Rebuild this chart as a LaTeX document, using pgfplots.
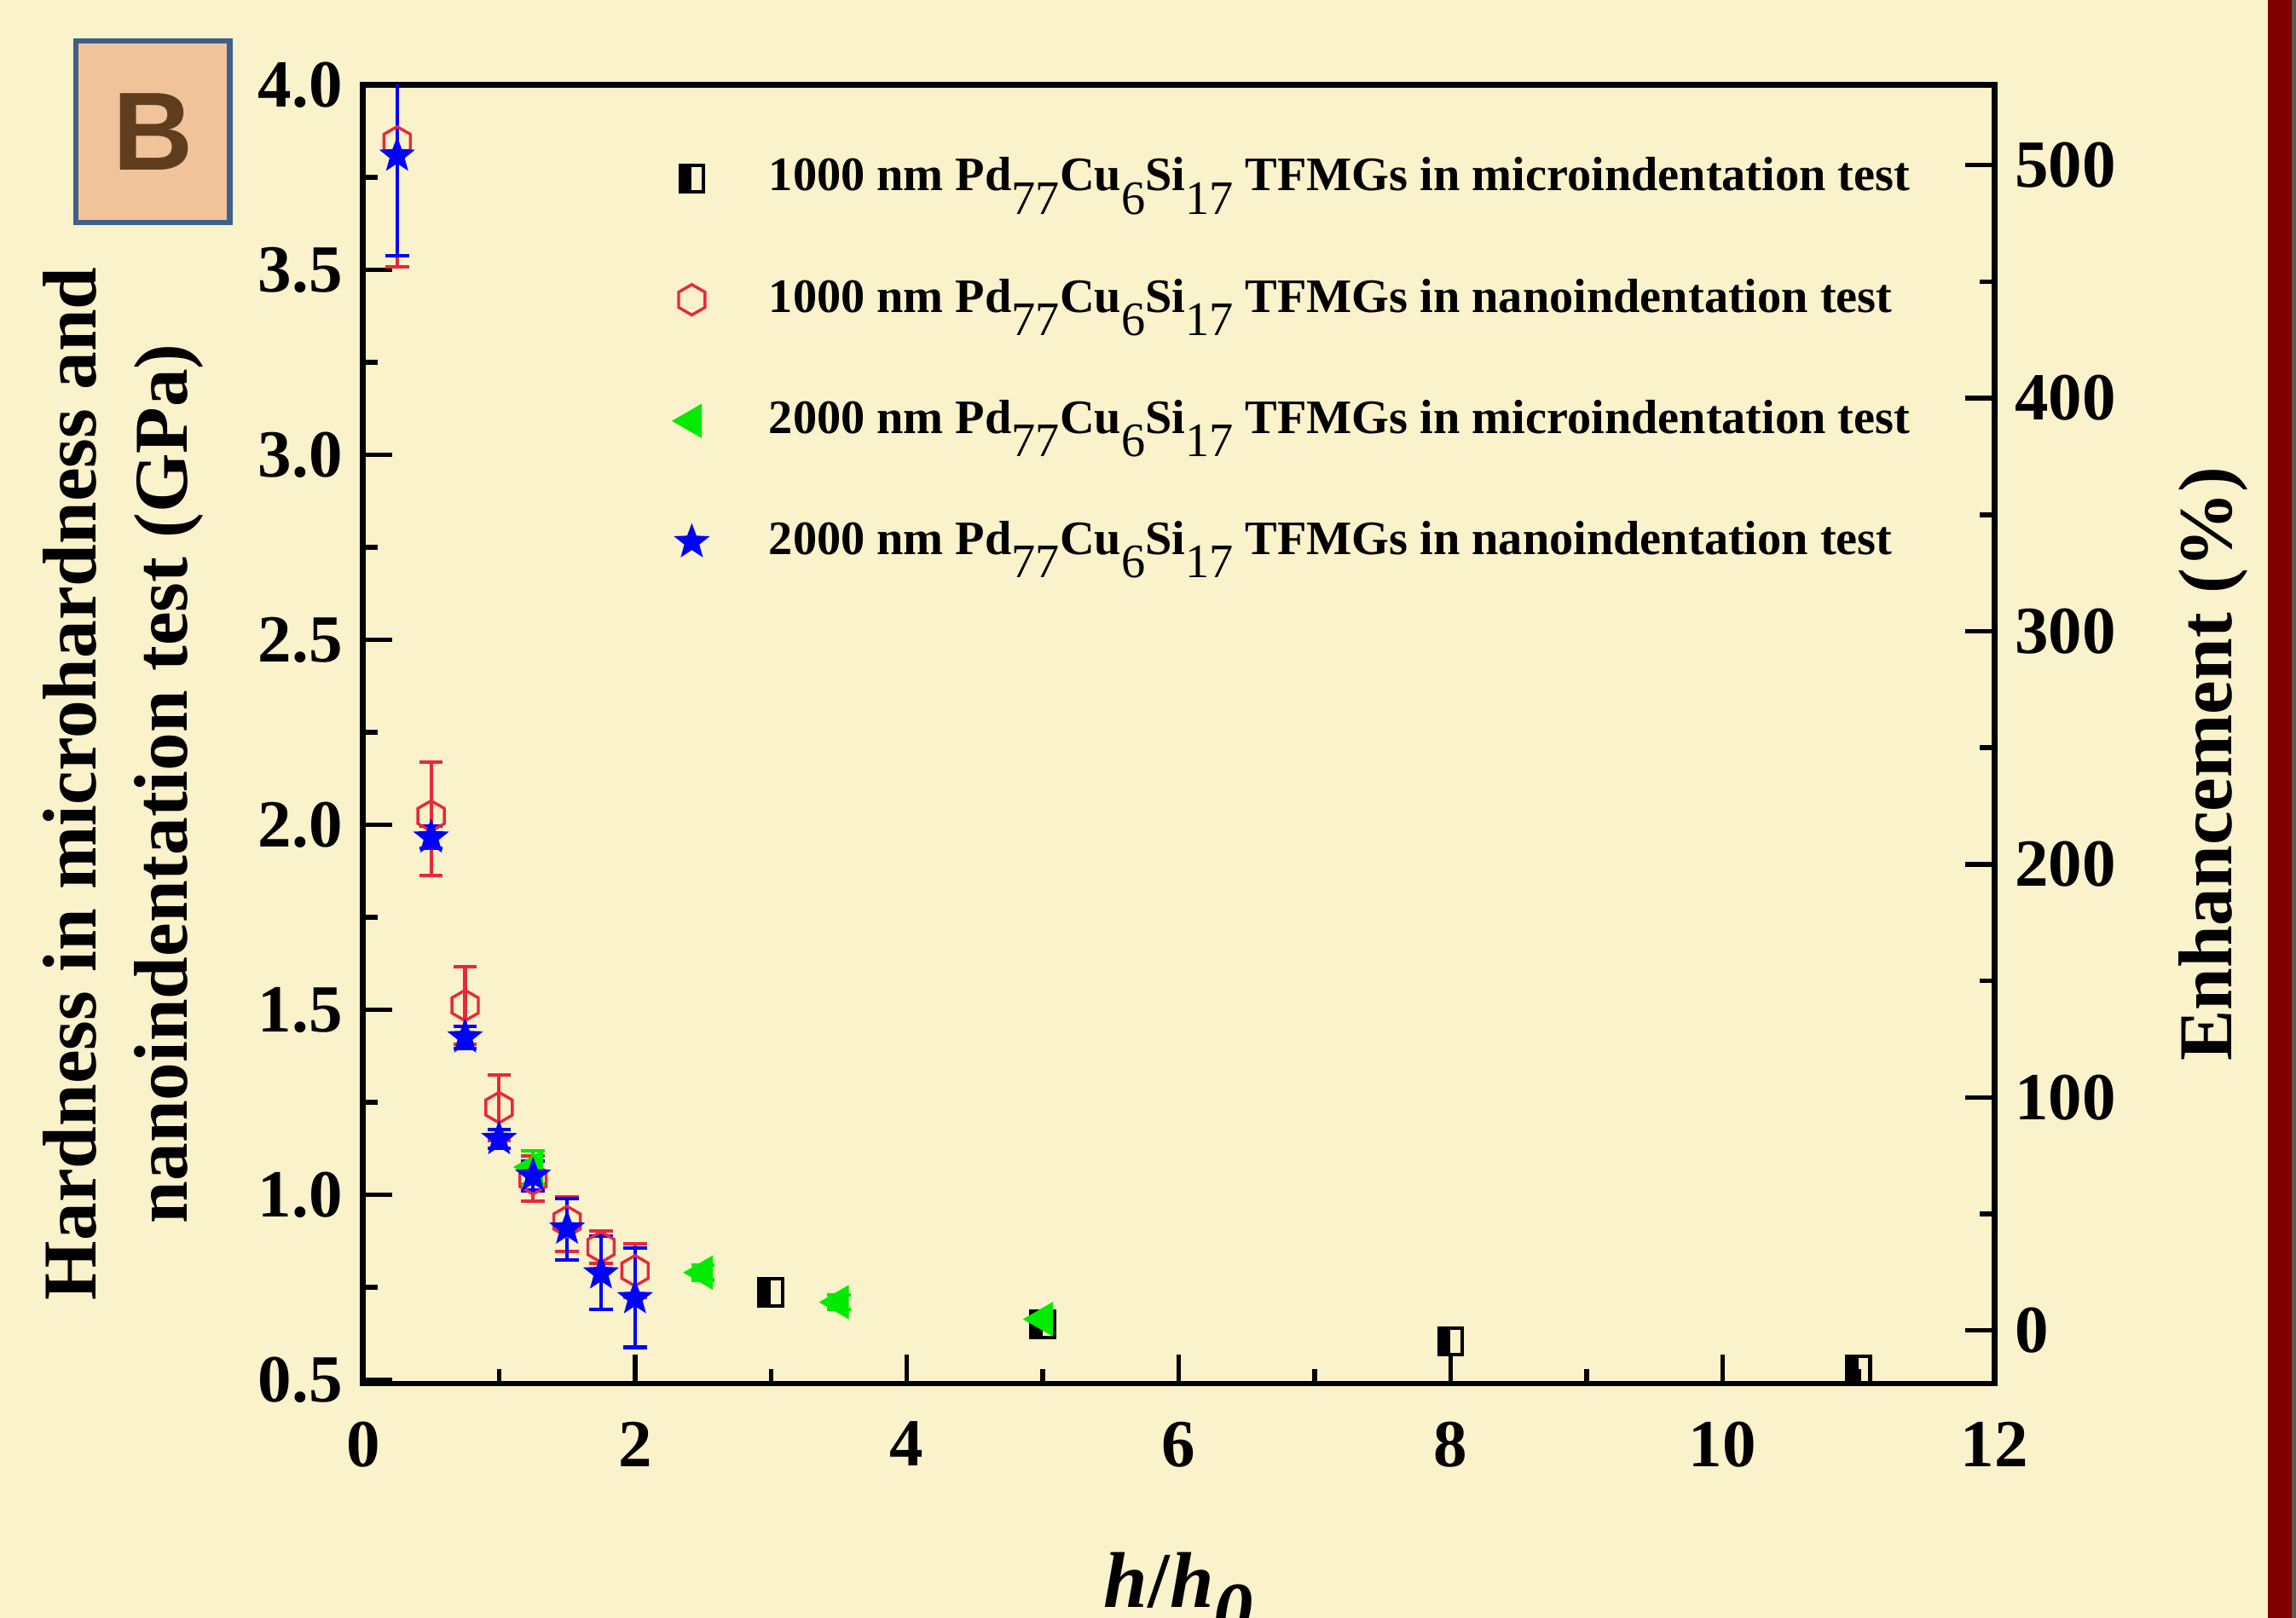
\documentclass[border=0pt]{standalone}
\usepackage{fontspec}
\setmainfont{Liberation Serif}
\newfontfamily\sansB{Liberation Sans}
\usepackage{pgfplots}
\pgfplotsset{compat=1.18}
\usetikzlibrary{plotmarks}

\definecolor{bg}{RGB}{249,242,202}
\definecolor{Bfill}{RGB}{241,195,154}
\definecolor{Bblue}{RGB}{61,95,138}
\definecolor{Bbrown}{RGB}{95,62,31}
\definecolor{dred}{RGB}{128,0,0}
\definecolor{hexred}{RGB}{232,40,60}
\definecolor{lime}{RGB}{0,235,0}

\newcommand{\sub}[1]{\raisebox{-4pt}{\mdseries #1}}

\pgfdeclareplotmark{halfsq}{%
 \pgfpathrectangle{\pgfpoint{-\pgfplotmarksize}{-1.15\pgfplotmarksize}}{\pgfpoint{\pgfplotmarksize}{2.3\pgfplotmarksize}}%
 \pgfusepathqfill
 \pgfpathrectangle{\pgfpoint{-\pgfplotmarksize}{-1.15\pgfplotmarksize}}{\pgfpoint{2\pgfplotmarksize}{2.3\pgfplotmarksize}}%
 \pgfusepathqstroke}
\pgfdeclareplotmark{hexa}{%
 \pgfpathmoveto{\pgfpointpolar{90}{\pgfplotmarksize}}%
 \pgfpathlineto{\pgfpointpolar{150}{\pgfplotmarksize}}%
 \pgfpathlineto{\pgfpointpolar{210}{\pgfplotmarksize}}%
 \pgfpathlineto{\pgfpointpolar{270}{\pgfplotmarksize}}%
 \pgfpathlineto{\pgfpointpolar{330}{\pgfplotmarksize}}%
 \pgfpathlineto{\pgfpointpolar{30}{\pgfplotmarksize}}%
 \pgfpathclose\pgfusepathqstroke}
\pgfdeclareplotmark{fstar}{%
 \pgfpathmoveto{\pgfpointpolar{90}{\pgfplotmarksize}}%
 \pgfpathlineto{\pgfpointpolar{126}{0.42\pgfplotmarksize}}%
 \pgfpathlineto{\pgfpointpolar{162}{\pgfplotmarksize}}%
 \pgfpathlineto{\pgfpointpolar{198}{0.42\pgfplotmarksize}}%
 \pgfpathlineto{\pgfpointpolar{234}{\pgfplotmarksize}}%
 \pgfpathlineto{\pgfpointpolar{270}{0.42\pgfplotmarksize}}%
 \pgfpathlineto{\pgfpointpolar{306}{\pgfplotmarksize}}%
 \pgfpathlineto{\pgfpointpolar{342}{0.42\pgfplotmarksize}}%
 \pgfpathlineto{\pgfpointpolar{18}{\pgfplotmarksize}}%
 \pgfpathlineto{\pgfpointpolar{54}{0.42\pgfplotmarksize}}%
 \pgfpathclose\pgfusepathqfillstroke}

\pgfplotstableread{
x y
3.0 0.737
5.0 0.650
8.0 0.604
11.0 0.528
}\blacksq

\pgfplotstableread{
x y ep em
0.25 3.846 0.34 0.338
0.50 2.024 0.145 0.161
0.75 1.512 0.105 0.105
1.00 1.236 0.089 0.089
1.25 1.043 0.062 0.060
1.50 0.928 0.067 0.081
1.75 0.859 0.044 0.044
2.00 0.795 0.073 0.073
}\redhex

\pgfplotstableread{
x y ep em
1.25 1.075 0.045 0.045
2.50 0.790 0.020 0.020
3.50 0.710 0.020 0.020
5.00 0.664 0.020 0.020
}\greentri

\pgfplotstableread{
x y ep em
0.25 3.809 0.27 0.27
0.50 1.966 0.030 0.030
0.75 1.426 0.030 0.030
1.00 1.151 0.025 0.025
1.25 1.052 0.040 0.040
1.50 0.909 0.080 0.085
1.75 0.788 0.100 0.097
2.00 0.721 0.136 0.133
}\bluestar

\begin{document}
\begin{tikzpicture}
\useasboundingbox (0,0) rectangle (392pt,276.25pt);
\fill[bg] (0,0) rectangle (392pt,276.25pt);
\fill[dred] (387.25pt,0) rectangle (391.25pt,276.25pt);
\fill[black!65] (391.25pt,0) rectangle (392pt,276.25pt);

\node[draw=Bblue, line width=0.9pt, fill=Bfill, minimum width=26.25pt, minimum height=31pt, inner sep=0pt,
  font=\sansB\bfseries\fontsize{19}{19}\selectfont, text=Bbrown] at (26.1pt,253.75pt) {B};

\begin{axis}[
  at={(62pt,40pt)}, anchor=south west,
  scale only axis, width=278.5pt, height=221.75pt,
  xmin=0, xmax=12, ymin=0.49, ymax=4.0,
  xtick={0,2,...,12}, ytick={0.5,1.0,...,4.0},
  minor x tick num=1, minor y tick num=1,
  tick align=inside, xtick pos=bottom, ytick pos=left,
  major tick length=5pt, minor tick length=2.5pt,
  axis line style={line width=1pt},
  tick style={black, line width=0.8pt},
  /pgf/number format/assume math mode=true,
  tick label style={font=\fontsize{11.5}{13}\selectfont\bfseries},
  yticklabel style={/pgf/number format/.cd, fixed, fixed zerofill, precision=1},
  xticklabel style={yshift=-3pt},
  xlabel={\textit{h}/\textit{h}\raisebox{-5pt}{\textit{0}}},
  xlabel style={at={(axis description cs:0.5,-0.1725)}, anchor=base, font=\fontsize{13.5}{15}\selectfont\bfseries},
  ylabel={Hardness in microhardness and\\nanoindentation test (GPa)},
  ylabel style={at={(axis description cs:-0.147,0.462)}, anchor=center, align=center, font=\fontsize{13}{15.5}\selectfont\bfseries},
  legend style={at={(axis description cs:0.190,0.954)}, anchor=north west, draw=none, fill=none,
    font=\fontsize{8.2}{10}\selectfont\bfseries, row sep=9.5pt, inner sep=0pt,
    /tikz/every odd column/.append style={column sep=8.5pt}},
  legend cell align=left,
]
\addplot[only marks, mark=halfsq, mark size=2pt, black, line width=0.6pt] table[x=x,y=y] {\blacksq};
\addlegendentry{1000 nm Pd\sub{77}Cu\sub{6}Si\sub{17} TFMGs in microindentation test}

\addplot[only marks, mark=hexa, mark size=2.6pt, hexred, line width=0.5pt,
  error bars/.cd, y dir=both, y explicit,
  error mark options={rotate=90, mark size=2pt, line width=0.6pt, hexred},
  error bar style={line width=0.6pt, hexred}]
  table[x=x,y=y,y error plus=ep,y error minus=em] {\redhex};
\addlegendentry{1000 nm Pd\sub{77}Cu\sub{6}Si\sub{17} TFMGs in nanoindentation test}

\addplot[only marks, mark=triangle*, mark size=3pt, lime, mark options={rotate=90, fill=lime, draw=lime},
  error bars/.cd, y dir=both, y explicit,
  error mark options={rotate=90, mark size=2pt, line width=0.6pt, lime},
  error bar style={line width=0.6pt, lime}]
  table[x=x,y=y,y error plus=ep,y error minus=em] {\greentri};
\addlegendentry{2000 nm Pd\sub{77}Cu\sub{6}Si\sub{17} TFMGs in microindentation test}

\addplot[only marks, mark=fstar, mark size=2.8pt, blue, mark options={fill=blue, draw=blue, line width=0.3pt},
  error bars/.cd, y dir=both, y explicit,
  error mark options={rotate=90, mark size=2pt, line width=0.6pt, blue},
  error bar style={line width=0.6pt, blue}]
  table[x=x,y=y,y error plus=ep,y error minus=em] {\bluestar};
\addlegendentry{2000 nm Pd\sub{77}Cu\sub{6}Si\sub{17} TFMGs in nanoindentation test}
\end{axis}

\begin{axis}[
  at={(62pt,40pt)}, anchor=south west,
  scale only axis, width=278.5pt, height=221.75pt,
  xmin=0, xmax=12, ymin=-22.8, ymax=534.4,
  axis x line=none, axis y line*=right,
  ytick={0,100,...,500}, minor y tick num=1,
  tick align=inside,
  major tick length=5pt, minor tick length=2.5pt,
  axis line style={line width=1pt},
  tick style={black, line width=0.8pt},
  /pgf/number format/assume math mode=true,
  tick label style={font=\fontsize{11.5}{13}\selectfont\bfseries},
  ylabel={Enhancement (\%)},
  ylabel style={at={(axis description cs:1.134,0.477)}, anchor=center, font=\fontsize{13}{15.5}\selectfont\bfseries},
]
\addplot[draw=none, forget plot] coordinates {(0,0)};
\end{axis}
\end{tikzpicture}
\end{document}
